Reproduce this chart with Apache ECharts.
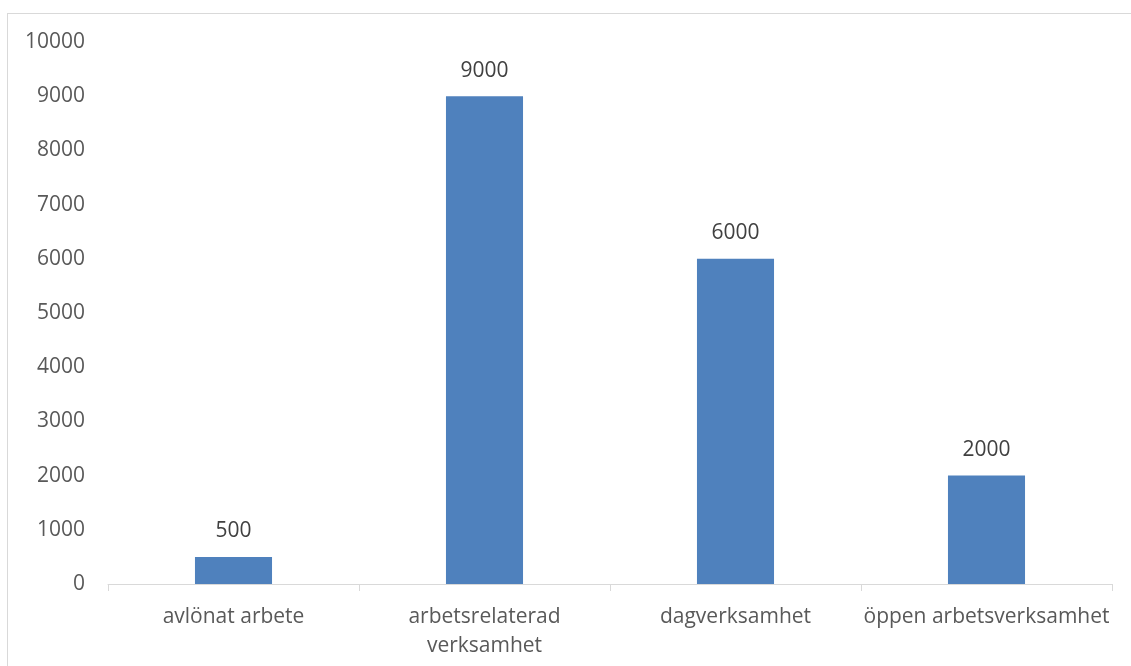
<!DOCTYPE html>
<html>
<head>
<meta charset="utf-8">
<script src="https://cdn.jsdelivr.net/npm/echarts@6/dist/echarts.min.js"></script>
<style>
html,body{margin:0;padding:0;background:#fff;}
#wrap{position:relative;width:1131px;height:666px;overflow:hidden;}
#frame{position:absolute;left:7px;top:13px;width:1200px;height:800px;border:1px solid #d9d9d9;box-sizing:border-box;}
#chart{position:absolute;left:0;top:0;width:1131px;height:666px;}
</style>
</head>
<body>
<div id="wrap"><div id="frame"></div><div id="chart"></div></div>
<script>
const categories = ['avlönat arbete', 'arbetsrelaterad\nverksamhet', 'dagverksamhet', 'öppen arbetsverksamhet'];
const values = [500, 9000, 6000, 2000];
const yMin = 0, yMax = 10000, yInterval = 1000;

const font = '"Open Sans", sans-serif';
const chart = echarts.init(document.getElementById('chart'));
chart.setOption({
  animation: false,
  grid: {left: 108, right: 19, top: 42, bottom: 82, containLabel: false},
  xAxis: {
    type: 'category',
    data: categories,
    axisLine: {lineStyle: {color: '#d9d9d9', width: 1}},
    axisTick: {show: true, length: 7, lineStyle: {color: '#d9d9d9'}},
    axisLabel: {color: '#595959', fontSize: 21, fontFamily: font, margin: 19, lineHeight: 29, interval: 0}
  },
  yAxis: {
    type: 'value',
    min: yMin, max: yMax, interval: yInterval,
    axisLine: {show: false},
    axisTick: {show: false},
    splitLine: {show: false},
    axisLabel: {color: '#595959', fontSize: 21, fontFamily: font, margin: 23, formatter: v => String(v)}
  },
  series: [{
    type: 'bar',
    data: values,
    barWidth: '30.7%',
    itemStyle: {color: '#4f81bd'},
    label: {show: true, position: 'top', distance: 15, color: '#404040', fontSize: 21, fontFamily: font}
  }]
});
</script>
</body>
</html>
